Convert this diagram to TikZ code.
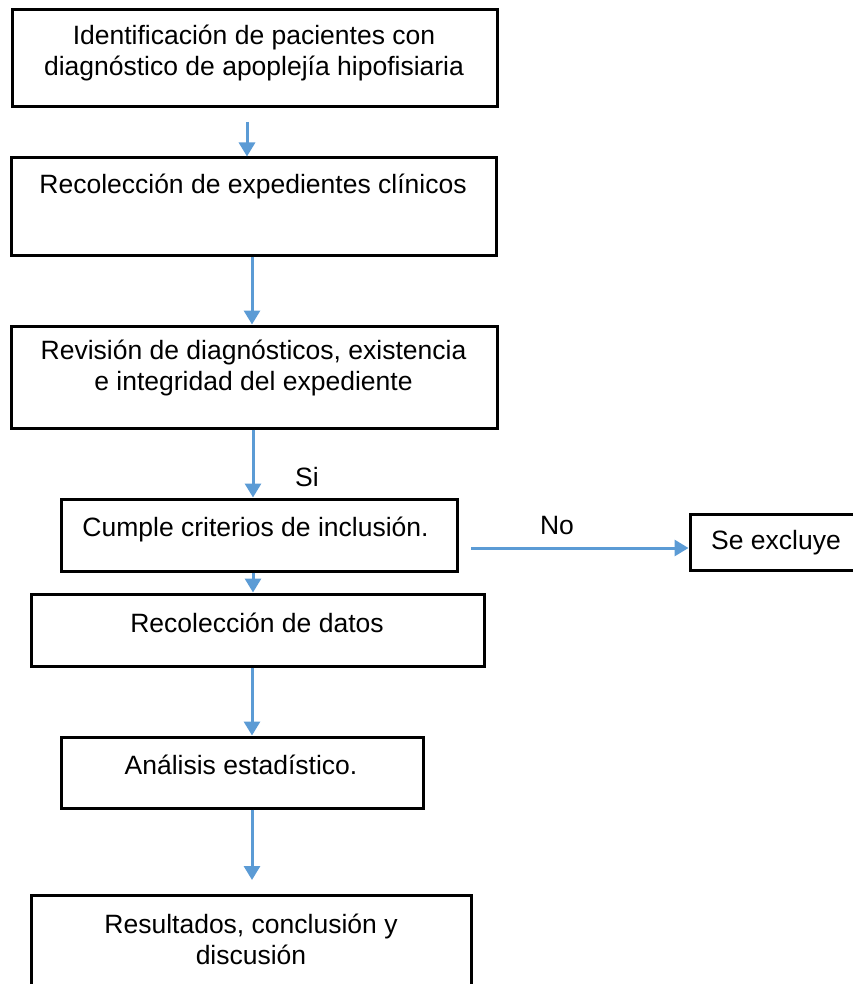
\documentclass[tikz,border=0pt]{standalone}
\usepackage{fontspec}
\setmainfont{Liberation Sans}
\usetikzlibrary{arrows.meta}
\definecolor{arrowblue}{HTML}{5B9BD5}
\begin{document}
\begin{tikzpicture}[x=1pt,y=-1pt,
  box/.style={draw=black,line width=3pt,inner sep=0pt,rectangle},
  txt/.style={inner sep=0pt,align=center,font=\fontsize{26.5}{31}\selectfont},
  flow/.style={draw=arrowblue,line width=3pt,-{Triangle[width=16pt,length=14pt]}}]
\useasboundingbox (0,0) rectangle (852,984);
% boxes (named)
\node[box,minimum width=485,minimum height=97] (b1) at (254.5,58.5) {};
\node[box,minimum width=485,minimum height=97] (b2) at (253.5,206.5) {};
\node[box,minimum width=486,minimum height=102] (b3) at (254,377) {};
\node[box,minimum width=396,minimum height=72] (b4) at (259,535) {};
\node[box,minimum width=166,minimum height=56] (b5) at (773,542) {};
\node[box,minimum width=453,minimum height=72] (b6) at (257.5,630) {};
\node[box,minimum width=362,minimum height=71] (b7) at (242,772.5) {};
\node[box,minimum width=440,minimum height=95] (b8) at (251,942.5) {};

% texts
\node[txt] (t1) at (254,53) {Identificación de pacientes con\\diagnóstico de apoplejía hipofisiaria};
\node[txt] (t2) at (253,186) {Recolección de expedientes clínicos};
\node[txt] (t3) at (253.5,368) {Revisión de diagnósticos, existencia\\e integridad del expediente};
\node[txt] (t4) at (255.5,529) {Cumple criterios de inclusión.};
\node[txt] (t5) at (776,543) {Se excluye};
\node[txt] (t6) at (257,623) {Recolección de datos};
\node[txt] (t7) at (241,765) {Análisis estadístico.};
\node[txt] (t8) at (251,939) {Resultados, conclusión y\\discusión};

% connector free ends
\coordinate (a1s) at (247,122);
\coordinate (a6e) at (252,880);
\coordinate (a7s) at (471,548);

% arrows
\draw[flow] (a1s) -- (a1s |- b2.north);
\draw[flow] ([xshift=-1.5pt]b2.south) -- ([xshift=-2pt]b3.north);
\draw[flow] ([xshift=-1pt]b3.south) -- ([xshift=-6pt]b4.north);
\draw[flow] ([xshift=-6pt]b4.south) -- ([xshift=-4.5pt]b6.north);
\draw[flow] ([xshift=-5.5pt]b6.south) -- ([xshift=10pt]b7.north);
\draw[flow] ([xshift=10pt]b7.south) -- (a6e);
\draw[flow] (a7s) -- (a7s -| b5.west);

% labels
\node[txt] (si) at (307,477) {Si};
\node[txt] (no) at (557,526) {No};
\end{tikzpicture}
\end{document}
